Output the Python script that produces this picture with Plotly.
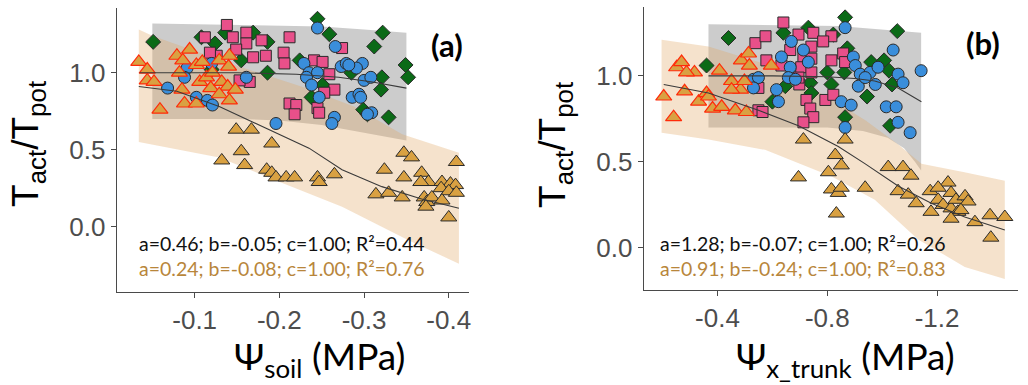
import plotly.graph_objects as go

# ---------------- Panel (a): soil water potential ----------------
a_redtri_x = [-0.034, -0.044, -0.044, -0.052, -0.059, -0.079, -0.094, -0.086, -0.082, -0.085, -0.088, -0.102, -0.102,
              -0.109, -0.106, -0.114, -0.119, -0.121, -0.129, -0.141, -0.140, -0.132, -0.139, -0.129, -0.148, -0.141]
a_redtri_y = [1.07, 1.02, 0.95, 0.94, 0.76, 1.11, 1.15, 1.08, 1.00, 0.89, 0.80, 0.80, 1.05,
              1.07, 0.94, 0.97, 0.90, 1.00, 1.08, 1.11, 1.04, 0.94, 0.91, 0.86, 0.89, 0.82]

a_tri_x = [-0.149, -0.167, -0.191, -0.155, -0.132, -0.159, -0.185, -0.191, -0.196, -0.208, -0.218, -0.245, -0.247,
           -0.265, -0.324, -0.347, -0.356, -0.409, -0.347, -0.368, -0.376, -0.392, -0.402, -0.408, -0.367, -0.314,
           -0.329, -0.345, -0.371, -0.374, -0.380, -0.391, -0.400, -0.409, -0.400, -0.373, -0.392]
a_tri_y = [0.63, 0.63, 0.54, 0.49, 0.43, 0.40, 0.37, 0.35, 0.32, 0.32, 0.32, 0.32, 0.29,
           0.34, 0.37, 0.48, 0.45, 0.42, 0.32, 0.35, 0.29, 0.29, 0.28, 0.27, 0.29, 0.21,
           0.22, 0.19, 0.19, 0.16, 0.19, 0.25, 0.23, 0.22, 0.06, 0.13, 0.17]

a_sq_x = [-0.138, -0.112, -0.145, -0.161, -0.179, -0.161, -0.212, -0.274, -0.126, -0.149, -0.169, -0.184, -0.205,
          -0.206, -0.165, -0.153, -0.241, -0.251, -0.259, -0.265, -0.253, -0.212, -0.220, -0.218, -0.245, -0.247, -0.118]
a_sq_y = [1.31, 1.23, 1.23, 1.26, 1.21, 1.19, 1.23, 1.16, 1.11, 1.15, 1.10, 1.11, 1.13,
          1.06, 0.94, 0.95, 1.08, 1.07, 0.99, 0.89, 0.87, 0.80, 0.79, 0.73, 0.77, 0.74, 1.13]

a_ci_x = [-0.245, -0.266, -0.229, -0.235, -0.245, -0.232, -0.238, -0.247, -0.265, -0.262, -0.196, -0.161, -0.273,
          -0.279, -0.286, -0.298, -0.291, -0.300, -0.308, -0.294, -0.296, -0.309, -0.304, -0.282, -0.091, -0.088,
          -0.068, -0.102, -0.115, -0.121, -0.120]
a_ci_y = [1.29, 1.17, 1.06, 1.00, 1.00, 0.97, 0.92, 0.84, 0.71, 0.67, 0.67, 0.97, 1.04,
          1.06, 0.84, 1.06, 1.03, 0.95, 0.97, 0.86, 0.84, 0.74, 0.73, 1.05, 1.03, 0.97,
          0.90, 0.84, 0.82, 0.79, 1.06]

a_di_x = [-0.051, -0.245, -0.259, -0.322, -0.312, -0.186, -0.169, -0.108, -0.124, -0.136, -0.349, -0.352, -0.321,
          -0.320, -0.329, -0.299, -0.304, -0.285, -0.186, -0.224, -0.238, -0.251, -0.155, -0.120]
a_di_y = [1.20, 1.35, 1.25, 1.26, 1.17, 1.20, 1.26, 1.23, 1.19, 1.26, 1.05, 0.97, 0.97,
          0.89, 0.71, 0.76, 0.73, 1.00, 1.00, 1.08, 0.84, 0.92, 1.08, 1.02]

a_black_x = [-0.035, -0.10, -0.15, -0.22, -0.27, -0.31, -0.35]
a_black_y = [1.00, 1.00, 1.00, 0.99, 0.97, 0.94, 0.90]
a_grey_top_x = [-0.05, -0.15, -0.25, -0.30, -0.35]
a_grey_top_y = [1.32, 1.31, 1.30, 1.28, 1.26]
a_grey_bot_x = [-0.05, -0.15, -0.20, -0.25, -0.30, -0.35]
a_grey_bot_y = [0.70, 0.70, 0.69, 0.66, 0.61, 0.56]

a_brown_x = [-0.034, -0.079, -0.129, -0.188, -0.235, -0.274, -0.321, -0.368, -0.412]
a_brown_y = [0.91, 0.88, 0.78, 0.63, 0.51, 0.37, 0.26, 0.18, 0.12]
a_beige_top_x = [-0.034, -0.05, -0.147, -0.226, -0.288, -0.345, -0.412]
a_beige_top_y = [1.28, 1.24, 1.05, 0.91, 0.78, 0.60, 0.48]
a_beige_bot_x = [-0.034, -0.129, -0.196, -0.274, -0.353, -0.412]
a_beige_bot_y = [0.55, 0.45, 0.30, 0.13, -0.09, -0.24]

# ---------------- Panel (b): trunk xylem water potential ----------------
b_redtri_x = [-0.204, -0.240, -0.251, -0.269, -0.280, -0.316, -0.331, -0.360, -0.382, -0.407, -0.415, -0.451,
              -0.465, -0.484, -0.487, -0.513, -0.516, -0.505, -0.596, -0.451, -0.498, -0.367, -0.287]
b_redtri_y = [0.88, 0.76, 1.05, 1.08, 0.91, 1.02, 0.85, 0.90, 0.81, 1.03, 0.82, 0.97,
              0.80, 0.92, 1.09, 1.13, 1.06, 0.79, 1.06, 0.92, 0.97, 0.88, 1.02]

b_tri_x = [-0.713, -0.865, -0.695, -0.804, -0.829, -0.851, -0.815, -0.840, -0.851, -0.833, -0.938, -1.022,
           -1.076, -1.105, -1.058, -1.095, -1.124, -1.175, -1.178, -1.204, -1.222, -1.240, -1.251, -1.251,
           -1.269, -1.276, -1.302, -1.313, -1.251, -1.338, -1.393, -1.447, -1.396, -1.204, -1.287]
b_tri_y = [0.63, 0.63, 0.41, 0.44, 0.54, 0.48, 0.34, 0.32, 0.35, 0.20, 0.35, 0.47,
           0.47, 0.42, 0.33, 0.31, 0.26, 0.33, 0.21, 0.28, 0.25, 0.38, 0.32, 0.23,
           0.28, 0.21, 0.30, 0.27, 0.17, 0.15, 0.19, 0.18, 0.06, 0.35, 0.22]

b_sq_x = [-0.640, -0.695, -0.749, -0.815, -0.785, -0.538, -0.575, -0.858, -0.665, -0.742, -0.713, -0.742,
          -0.705, -0.742, -0.578, -0.633, -0.815, -0.865, -0.698, -0.549, -0.724, -0.738, -0.793, -0.822,
          -0.749, -0.713, -0.549, -0.564, -0.695]
b_sq_y = [1.31, 1.24, 1.25, 1.23, 1.20, 1.19, 1.23, 1.13, 1.15, 1.17, 1.11, 1.10,
          1.05, 1.02, 1.09, 1.06, 1.09, 1.08, 0.95, 0.93, 0.86, 0.81, 0.86, 0.89,
          0.76, 0.73, 0.80, 0.79, 0.99]

b_ci_x = [-0.865, -0.669, -0.713, -0.633, -0.665, -0.731, -0.895, -0.902, -0.920, -0.956, -0.985, -0.658,
          -0.684, -0.615, -0.913, -0.622, -0.851, -0.887, -0.865, -0.531, -0.549, -0.531, -1.040, -1.058,
          -1.076, -0.975, -1.142, -1.015, -1.051, -1.058, -1.102, -0.938]
b_ci_y = [1.28, 1.20, 1.15, 1.11, 1.05, 1.08, 1.11, 1.06, 1.01, 1.02, 1.05, 0.99,
          0.98, 0.92, 0.94, 0.85, 0.85, 0.83, 0.70, 0.98, 0.99, 0.93, 1.15, 1.01,
          0.96, 0.95, 1.03, 0.82, 0.82, 0.73, 0.67, 0.99]

b_di_x = [-0.440, -0.360, -0.865, -0.731, -0.640, -0.822, -1.055, -0.600, -0.738, -0.742, -0.800, -0.815,
          -0.873, -0.862, -0.945, -0.960, -1.007, -1.025, -1.036, -0.865, -1.029, -0.647]
b_di_y = [1.22, 1.06, 1.34, 1.28, 1.25, 1.24, 1.26, 0.85, 0.96, 0.90, 1.02, 0.95,
          1.16, 1.02, 0.88, 1.08, 1.09, 1.03, 0.95, 0.76, 0.71, 0.94]

b_black_x = [-0.367, -0.60, -0.80, -0.90, -0.973, -1.058, -1.143]
b_black_y = [1.00, 1.00, 0.995, 0.985, 0.97, 0.93, 0.85]
b_grey_top_x = [-0.367, -0.84, -1.142]
b_grey_top_y = [1.30, 1.29, 1.25]
b_grey_bot_x = [-0.367, -0.80, -0.93, -1.02, -1.08, -1.12, -1.142]
b_grey_bot_y = [0.70, 0.70, 0.68, 0.64, 0.58, 0.50, 0.45]

b_brown_x = [-0.204, -0.367, -0.549, -0.695, -0.840, -0.937, -1.058, -1.179, -1.301, -1.447]
b_brown_y = [0.95, 0.90, 0.80, 0.71, 0.59, 0.49, 0.36, 0.26, 0.18, 0.105]
b_beige_top_x = [-0.196, -0.367, -0.55, -0.70, -0.84, -0.94, -1.06, -1.143, -1.30, -1.447]
b_beige_top_y = [1.21, 1.17, 1.08, 0.97, 0.84, 0.74, 0.60, 0.49, 0.44, 0.39]
b_beige_bot_x = [-0.196, -0.367, -0.573, -0.816, -0.973, -1.131, -1.301, -1.447]
b_beige_bot_y = [0.67, 0.63, 0.57, 0.415, 0.28, 0.05, -0.11, -0.18]

# ---------------- tick labels & texts ----------------
a_xtick_vals = [-0.1, -0.2, -0.3, -0.4]
a_xtick_text = ["-0.1", "-0.2", "-0.3", "-0.4"]
b_xtick_vals = [-0.4, -0.8, -1.2]
b_xtick_text = ["-0.4", "-0.8", "-1.2"]
ytick_vals = [0.0, 0.5, 1.0]
ytick_text = ["0.0", "0.5", "1.0"]

a_stats = ["a=0.46; b=-0.05; c=1.00; R²=0.44", "a=0.24; b=-0.08; c=1.00; R²=0.76"]
b_stats = ["a=1.28; b=-0.07; c=1.00; R²=0.26", "a=0.91; b=-0.24; c=1.00; R²=0.83"]

GREY_FILL = "rgba(128,128,128,0.40)"
BEIGE_FILL = "rgba(224,168,100,0.33)"
ORANGE = "#D9A142"
PINK = "#E8508A"
BLUE = "#3A8EDB"
GREEN = "#0B6A17"
EDGE = "#2a2a2a"
RED_EDGE = "#FF2B0A"
LINE = "#3a3a3a"
BROWN_TXT = "#B8863B"

fig = go.Figure()


def add_panel(xa, ya, grey_tx, grey_ty, grey_bx, grey_by, beige_tx, beige_ty, beige_bx, beige_by,
              blk_x, blk_y, brn_x, brn_y, di_x, di_y, sq_x, sq_y, ci_x, ci_y, tri_x, tri_y, rt_x, rt_y):
    common = dict(xaxis=xa, yaxis=ya, showlegend=False, hoverinfo="skip")
    fig.add_trace(go.Scatter(x=list(grey_tx) + list(grey_bx)[::-1], y=list(grey_ty) + list(grey_by)[::-1],
                             fill="toself", fillcolor=GREY_FILL, mode="lines", line=dict(width=0), **common))
    fig.add_trace(go.Scatter(x=list(beige_tx) + list(beige_bx)[::-1], y=list(beige_ty) + list(beige_by)[::-1],
                             fill="toself", fillcolor=BEIGE_FILL, mode="lines", line=dict(width=0), **common))
    fig.add_trace(go.Scatter(x=di_x, y=di_y, mode="markers",
                             marker=dict(symbol="diamond", size=11.5, color=GREEN, line=dict(color=EDGE, width=1)), **common))
    fig.add_trace(go.Scatter(x=sq_x, y=sq_y, mode="markers",
                             marker=dict(symbol="square", size=11, color=PINK, line=dict(color=EDGE, width=1)), **common))
    fig.add_trace(go.Scatter(x=ci_x, y=ci_y, mode="markers",
                             marker=dict(symbol="circle", size=12, color=BLUE, line=dict(color=EDGE, width=1)), **common))
    fig.add_trace(go.Scatter(x=tri_x, y=tri_y, mode="markers",
                             marker=dict(symbol="triangle-up", size=14, color=ORANGE, line=dict(color=EDGE, width=1)), **common))
    fig.add_trace(go.Scatter(x=rt_x, y=rt_y, mode="markers",
                             marker=dict(symbol="triangle-up", size=14, color=ORANGE, line=dict(color=RED_EDGE, width=1.2)), **common))
    fig.add_trace(go.Scatter(x=blk_x, y=blk_y, mode="lines", line=dict(color=LINE, width=1.1), **common))
    fig.add_trace(go.Scatter(x=brn_x, y=brn_y, mode="lines", line=dict(color=LINE, width=1.1), **common))


add_panel("x", "y", a_grey_top_x, a_grey_top_y, a_grey_bot_x, a_grey_bot_y,
          a_beige_top_x, a_beige_top_y, a_beige_bot_x, a_beige_bot_y,
          a_black_x, a_black_y, a_brown_x, a_brown_y,
          a_di_x, a_di_y, a_sq_x, a_sq_y, a_ci_x, a_ci_y, a_tri_x, a_tri_y, a_redtri_x, a_redtri_y)
add_panel("x2", "y2", b_grey_top_x, b_grey_top_y, b_grey_bot_x, b_grey_bot_y,
          b_beige_top_x, b_beige_top_y, b_beige_bot_x, b_beige_bot_y,
          b_black_x, b_black_y, b_brown_x, b_brown_y,
          b_di_x, b_di_y, b_sq_x, b_sq_y, b_ci_x, b_ci_y, b_tri_x, b_tri_y, b_redtri_x, b_redtri_y)

axis_common = dict(showline=True, linecolor="#4a4a4a", linewidth=1.2, ticks="outside", ticklen=5,
                   tickcolor="#4a4a4a", tickwidth=1.2, showgrid=False, zeroline=False,
                   tickfont=dict(family="Liberation Sans", size=26, color="#4D4D4D"))

fig.update_layout(
    width=1028, height=385, margin=dict(l=0, r=0, t=0, b=0),
    paper_bgcolor="white", plot_bgcolor="white",
    xaxis=dict(domain=[0.1138, 0.4572], range=[-0.008, -0.424], anchor="y",
               tickvals=a_xtick_vals, ticktext=a_xtick_text, **axis_common),
    yaxis=dict(domain=[0.2416, 0.9792], range=[-0.424, 1.42], anchor="x",
               tickvals=ytick_vals, ticktext=ytick_text, **axis_common),
    xaxis2=dict(domain=[0.6274, 0.9922], range=[-0.131, -1.495], anchor="y2",
                tickvals=b_xtick_vals, ticktext=b_xtick_text, **axis_common),
    yaxis2=dict(domain=[0.2468, 0.9818], range=[-0.244, 1.40], anchor="x2",
                tickvals=ytick_vals, ticktext=ytick_text, **axis_common),
)

ytitle = "T<sub>act</sub>/T<sub>pot</sub>"
ann = []
ann.append(dict(text=ytitle, x=28 / 1028, y=1 - 144 / 385, textangle=-90, showarrow=False,
                xref="paper", yref="paper", xanchor="center", yanchor="middle",
                font=dict(family="Liberation Sans", size=37, color="black")))
ann.append(dict(text=ytitle, x=556 / 1028, y=1 - 145 / 385, textangle=-90, showarrow=False,
                xref="paper", yref="paper", xanchor="center", yanchor="middle",
                font=dict(family="Liberation Sans", size=37, color="black")))
ann.append(dict(text="Ψ<sub>soil</sub> (MPa)", x=320 / 1028, y=1 - 358 / 385, showarrow=False,
                xref="paper", yref="paper", xanchor="center", yanchor="middle",
                font=dict(family="Lato, Open Sans", size=37, color="black")))
ann.append(dict(text="Ψ<sub>x_trunk</sub> (MPa)", x=847 / 1028, y=1 - 358 / 385, showarrow=False,
                xref="paper", yref="paper", xanchor="center", yanchor="middle",
                font=dict(family="Lato, Open Sans", size=37, color="black")))
ann.append(dict(text="<b>(a)</b>", x=448 / 1028, y=1 - 45 / 385, showarrow=False,
                xref="paper", yref="paper", xanchor="center", yanchor="middle",
                font=dict(family="Lato, Open Sans", size=31, color="black")))
ann.append(dict(text="<b>(b)</b>", x=985 / 1028, y=1 - 43 / 385, showarrow=False,
                xref="paper", yref="paper", xanchor="center", yanchor="middle",
                font=dict(family="Lato, Open Sans", size=31, color="black")))
for i, (txt, col) in enumerate(zip(a_stats, ["#111111", BROWN_TXT])):
    ann.append(dict(text=txt, x=137 / 1028, y=1 - (243 + 25 * i) / 385, showarrow=False,
                    xref="paper", yref="paper", xanchor="left", yanchor="middle",
                    font=dict(family="Lato, Open Sans", size=19.5, color=col)))
for i, (txt, col) in enumerate(zip(b_stats, ["#111111", BROWN_TXT])):
    ann.append(dict(text=txt, x=659 / 1028, y=1 - (243 + 25 * i) / 385, showarrow=False,
                    xref="paper", yref="paper", xanchor="left", yanchor="middle",
                    font=dict(family="Lato, Open Sans", size=19.5, color=col)))
fig.update_layout(annotations=ann)

fig.write_html("out.html")
